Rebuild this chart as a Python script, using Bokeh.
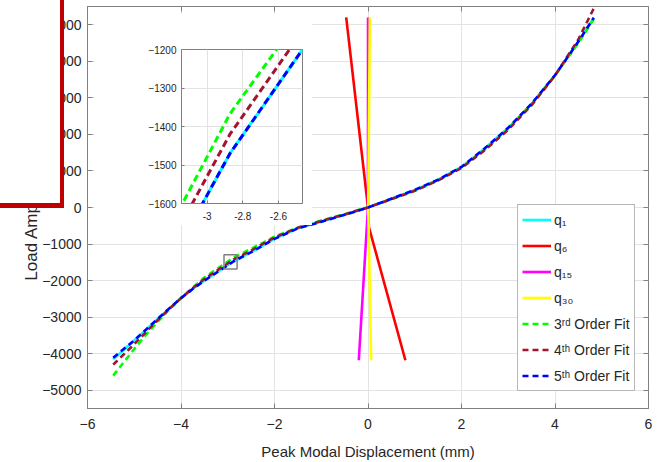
from bokeh.plotting import figure
from bokeh.models import (Range1d, FixedTicker, LinearAxis, Legend, LegendItem,
                          NumeralTickFormatter, Div)
from bokeh.layouts import column
from bokeh.embed import file_html
from bokeh.resources import INLINE

# ---------------- data ----------------
disp_x = [-5.45, -5.0, -4.75, -4.5, -4.25, -4.0, -3.75, -3.5, -2.872, -2.465, -2.0, -1.5,
          -1.0, -0.5, 0.0, 0.5, 1.0, 1.5, 2.0, 2.5, 3.0, 3.5, 4.0, 4.5, 4.83]
q1_load = [-4150, -3640, -3345, -3050, -2760, -2480, -2230, -2000, -1470, -1200, -860, -570,
           -390, -200, 0, 240, 480, 760, 1110, 1620, 2180, 2840, 3620, 4540, 5190]
fit3_load = [-4600, -3870, -3485, -3125, -2790, -2480, -2190, -1915, -1367, -1107, -800, -545,
             -355, -180, 10, 225, 455, 745, 1095, 1585, 2155, 2830, 3610, 4500, 5160]
fit4_load = [-4300, -3740, -3410, -3085, -2775, -2480, -2210, -1955, -1420, -1152, -820, -555,
             -370, -190, 0, 230, 460, 740, 1080, 1570, 2130, 2800, 3610, 4600, 5450]
fit5_load = [-4110, -3635, -3345, -3050, -2760, -2480, -2230, -2000, -1470, -1200, -860, -570,
             -390, -200, 0, 240, 480, 760, 1110, 1620, 2180, 2840, 3620, 4540, 5190]

q6_x = [-0.466, 0.0, 0.02, 0.80]
q6_load = [5200, 0, -540, -4180]
q15_x = [0.0, 0.0, -0.197]
q15_load = [5200, 0, -4180]
q30_x = [0.04, 0.005, 0.068]
q30_load = [5200, 0, -4180]

series_labels = ["q\u2081", "q\u2086", "q\u2081\u2085", "q\u2083\u2080",
                 "3\u02b3\u1d48 Order Fit", "4\u1d57\u02b0 Order Fit", "5\u1d57\u02b0 Order Fit"]

x_ticks = [-6, -4, -2, 0, 2, 4, 6]
y_ticks = [-5000, -4000, -3000, -2000, -1000, 0, 1000, 2000, 3000, 4000, 5000]
inset_x_ticks = [-3.0, -2.8, -2.6]
inset_y_ticks = [-1600, -1500, -1400, -1300, -1200]

zoom_box = [-3.08, -2.80, -1680, -1295]       # left, right, bottom, top (data)

x_label = "Peak Modal Displacement (mm)"
y_label = "Load Amplitude (N)"

# ---------------- styles ----------------
FONT = "Liberation Sans"
TXT = "#262626"
AXC = "#808080"
GRID = "#e3e3e3"
C_Q1, C_Q6, C_Q15, C_Q30 = "#00FFFF", "#FF0000", "#FF00FF", "#FFFF00"
C_F3, C_F4, C_F5 = "#00FF00", "#A2142F", "#0000FF"

# ---------------- main figure ----------------
p = figure(width=658, height=462, x_range=Range1d(-6, 6), y_range=Range1d(-5500, 5500),
           output_backend="svg", toolbar_location=None,
           min_border_left=87, min_border_right=10, min_border_top=6, min_border_bottom=54,
           background_fill_color="white", border_fill_color="white",
           outline_line_color=AXC, outline_line_width=1)

xt = FixedTicker(ticks=x_ticks)
yt = FixedTicker(ticks=y_ticks)
p.xaxis.ticker = xt
p.yaxis.ticker = yt
p.xgrid.ticker = xt
p.ygrid.ticker = yt
for g in (p.xgrid, p.ygrid):
    g.grid_line_color = GRID
    g.grid_line_width = 1

for ax in (p.xaxis, p.yaxis):
    ax.axis_line_color = AXC
    ax.major_tick_line_color = AXC
    ax.major_tick_in = 5
    ax.major_tick_out = 0
    ax.minor_tick_in = 0
    ax.minor_tick_out = 0
    ax.major_label_text_font = FONT
    ax.major_label_text_font_size = "14px"
    ax.major_label_text_color = TXT
    ax.axis_label_text_font = FONT
    ax.axis_label_text_font_style = "normal"
    ax.axis_label_text_color = TXT

p.xaxis.axis_label = x_label
p.xaxis.axis_label_text_font_size = "15px"
p.xaxis.major_label_standoff = 10
p.xaxis.axis_label_standoff = 11
p.yaxis.axis_label = y_label
p.yaxis.axis_label_text_font_size = "17px"
p.yaxis.major_label_standoff = 6
p.yaxis.axis_label_standoff = -2

for loc, tk in (("right", yt), ("above", xt)):
    extra = LinearAxis(ticker=tk, major_label_text_font_size="0px", major_label_text_color=None,
                       major_label_standoff=0,
                       major_tick_in=5, major_tick_out=0, minor_tick_in=0, minor_tick_out=0,
                       axis_line_color=None, major_tick_line_color=AXC)
    p.add_layout(extra, loc)

LW = 2.6
DASH = "6 4"
r1 = p.line(disp_x, q1_load, line_color=C_Q1, line_width=LW)
r6 = p.line(q6_x, q6_load, line_color=C_Q6, line_width=LW)
r15 = p.line(q15_x, q15_load, line_color=C_Q15, line_width=LW)
r30 = p.line(q30_x, q30_load, line_color=C_Q30, line_width=LW)
f3 = p.line(disp_x, fit3_load, line_color=C_F3, line_width=LW, line_dash=DASH)
f4 = p.line(disp_x, fit4_load, line_color=C_F4, line_width=LW, line_dash=DASH)
f5 = p.line(disp_x, fit5_load, line_color=C_F5, line_width=LW, line_dash=DASH)

p.quad(left=[zoom_box[0]], right=[zoom_box[1]], bottom=[zoom_box[2]], top=[zoom_box[3]],
       fill_alpha=0, line_color=AXC, line_width=1.5)

legend = Legend(items=[LegendItem(label=lab, renderers=[r]) for lab, r in
                       zip(series_labels, [r1, r6, r15, r30, f3, f4, f5])],
                location=(430, 17), orientation="vertical",
                label_text_font=FONT, label_text_font_size="14px", label_text_color=TXT,
                glyph_width=29, glyph_height=21, label_height=21, label_standoff=3,
                spacing=5, padding=4, margin=0,
                border_line_color="#6e6e6e", border_line_width=1,
                background_fill_color="white", background_fill_alpha=1)
p.add_layout(legend, "center")

# ---------------- inset figure ----------------
ins = figure(width=218, height=212, x_range=Range1d(-3.144, -2.465), y_range=Range1d(-1600, -1200),
             output_backend="svg", toolbar_location=None,
             min_border_left=34, min_border_right=3, min_border_top=36, min_border_bottom=22,
             background_fill_color="white", border_fill_color="white",
             outline_line_color=AXC, outline_line_width=1,
             styles={"position": "absolute", "left": "94px", "top": "13px"})
ixt = FixedTicker(ticks=inset_x_ticks)
iyt = FixedTicker(ticks=inset_y_ticks)
ins.xaxis.ticker = ixt
ins.yaxis.ticker = iyt
ins.xgrid.ticker = ixt
ins.ygrid.ticker = iyt
ins.xaxis.formatter = NumeralTickFormatter(format="0.[0]")
for g in (ins.xgrid, ins.ygrid):
    g.grid_line_color = GRID
for ax in (ins.xaxis, ins.yaxis):
    ax.axis_line_color = AXC
    ax.major_tick_line_color = AXC
    ax.major_tick_in = 3
    ax.major_tick_out = 0
    ax.minor_tick_in = 0
    ax.minor_tick_out = 0
    ax.major_label_text_font = FONT
    ax.major_label_text_font_size = "10px"
    ax.major_label_text_color = TXT
ins.xaxis.major_label_standoff = 8
ins.yaxis.major_label_standoff = 5

ILW = 3
IDASH = "7 4"
ins.line(disp_x, q1_load, line_color=C_Q1, line_width=ILW)
ins.line(disp_x, fit3_load, line_color=C_F3, line_width=ILW, line_dash=IDASH)
ins.line(disp_x, fit4_load, line_color=C_F4, line_width=ILW, line_dash=IDASH)
ins.line(disp_x, fit5_load, line_color=C_F5, line_width=ILW, line_dash=IDASH)

# ---------------- red-framed white box over the top-left corner ----------------
cover = Div(text="", styles={"position": "absolute", "left": "-10px", "top": "-10px",
                             "width": "69px", "height": "213px",
                             "border-right": "4px solid #C00000",
                             "border-bottom": "5px solid #C00000",
                             "background-color": "white", "z-index": "10"})

layout = column(p, ins, cover)
open("out.html", "w").write(file_html(layout, INLINE))
